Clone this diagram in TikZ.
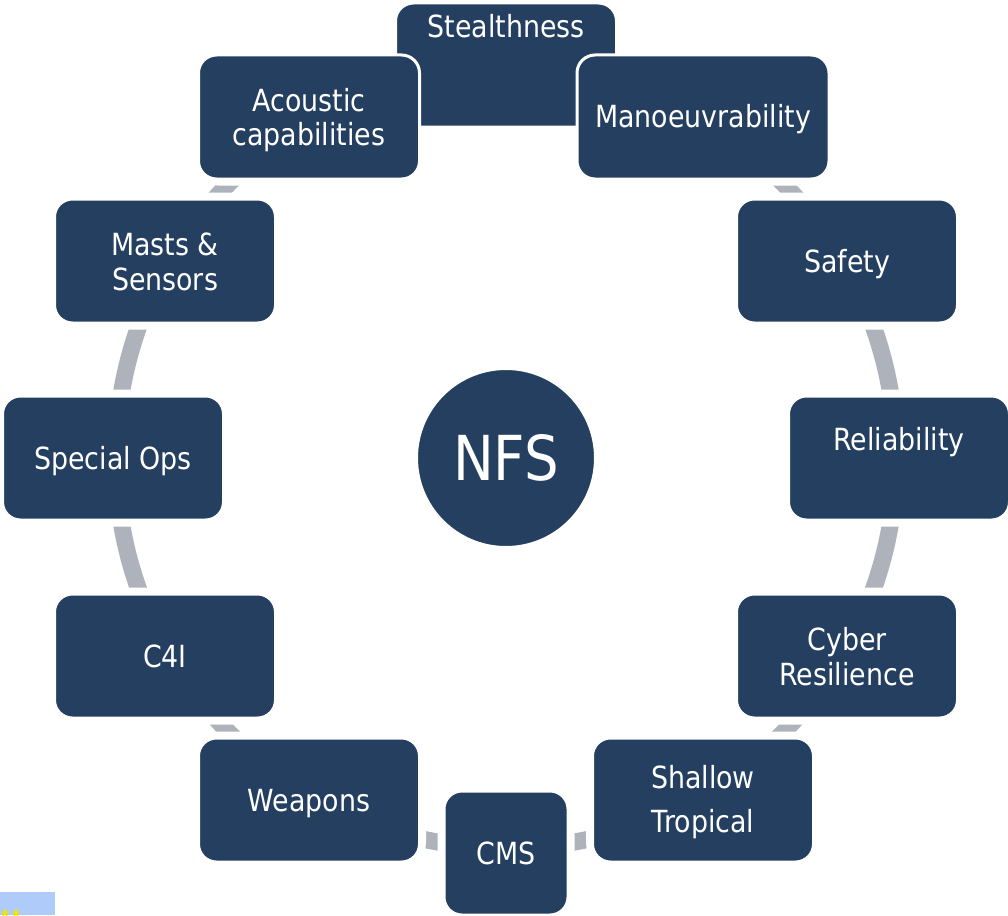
\documentclass[tikz,border=0pt]{standalone}
\usepackage{fontspec}
\newfontfamily\boxfont{DejaVu Sans}[FakeStretch=0.88]
\definecolor{navy}{HTML}{243F60}
\definecolor{ringgray}{HTML}{AEB2BA}
\definecolor{flagblue}{HTML}{AECBFA}
\definecolor{staryellow}{HTML}{F2E600}
\begin{document}
\begin{tikzpicture}[x=1pt,y=-1pt,
  halo/.style={rectangle, rounded corners=20pt, fill=white, draw=white,
    line width=13pt, minimum height=124pt, inner sep=0pt},
  box/.style={rectangle, rounded corners=18pt, fill=navy, draw=white,
    line width=3pt, minimum height=124pt, inner sep=0pt},
  lbl/.style={text=white, anchor=base, inner sep=0pt,
    font=\boxfont\fontsize{30.5pt}{35pt}\selectfont},
  hub/.style={circle, fill=navy, draw=white, line width=2pt,
    minimum size=178pt, inner sep=0pt, text=white,
    font=\boxfont\fontsize{62pt}{70pt}\selectfont}]
\useasboundingbox (0,0) rectangle (1008,915);

% grey ring that links the boxes
\draw[ringgray, line width=17pt] (506,458) circle[radius=390];

% white clearance around every box so the ring stops short of it
\foreach \n/\x/\y/\w in {stealth/506/65/221, acou/309/117/221, manoe/703/117/252,
  masts/165/261/221, safety/847/261/221, specops/113/458/221, rel/899/458/221,
  cfouri/165/656/221, cyber/847/656/221, weap/309/800/221, shallow/703/800/221,
  cms/506/853/124}
  \node[halo, minimum width=\w pt] (h-\n) at (\x,\y) {};

% the boxes, the top one first so its neighbours overlap it
\foreach \n/\x/\y/\w in {stealth/506/65/221, acou/309/117/221, manoe/703/117/252,
  masts/165/261/221, safety/847/261/221, specops/113/458/221, rel/899/458/221,
  cfouri/165/656/221, cyber/847/656/221, weap/309/800/221, shallow/703/800/221,
  cms/506/853/124}
  \node[box, minimum width=\w pt] (\n) at (\x,\y) {};

% labels
\node[lbl] (t-stealth) at (506,38) {Stealthness};
\node[lbl] (t-acou1) at (309,111) {Acoustic};
\node[lbl] (t-acou2) at (309,145) {capabilities};
\node[lbl] (t-manoe) at (703,128) {Manoeuvrability};
\node[lbl] (t-masts1) at (165,255) {Masts \&};
\node[lbl] (t-masts2) at (165,290) {Sensors};
\node[lbl] (t-safety) at (847,272) {Safety};
\node[lbl] (t-specops) at (113,469) {Special Ops};
\node[lbl] (t-rel) at (899,450) {Reliability};
\node[lbl] (t-cfouri) at (165,667) {C4I};
\node[lbl] (t-cyber1) at (847,650) {Cyber};
\node[lbl] (t-cyber2) at (847,685) {Resilience};
\node[lbl] (t-weap) at (309,811) {Weapons};
\node[lbl] (t-shallow1) at (703,788) {Shallow};
\node[lbl] (t-shallow2) at (703,832) {Tropical};
\node[lbl] (t-cms) at (506,864) {CMS};

% centre
\node[hub] (nfs) at (506,458) {NFS};

% corner of the flag in the lower left
\begin{scope}
  \clip (0,892) rectangle (55,915);
  \fill[flagblue] (0,892) rectangle (55,915);
  \foreach \cx in {5,16}
    \fill[staryellow] (\cx,908) -- (\cx+1.2,911.5) -- (\cx+4.5,911.5) -- (\cx+1.8,913.6)
      -- (\cx+2.8,917) -- (\cx,915) -- (\cx-2.8,917) -- (\cx-1.8,913.6)
      -- (\cx-4.5,911.5) -- (\cx-1.2,911.5) -- cycle;
\end{scope}
\end{tikzpicture}
\end{document}
